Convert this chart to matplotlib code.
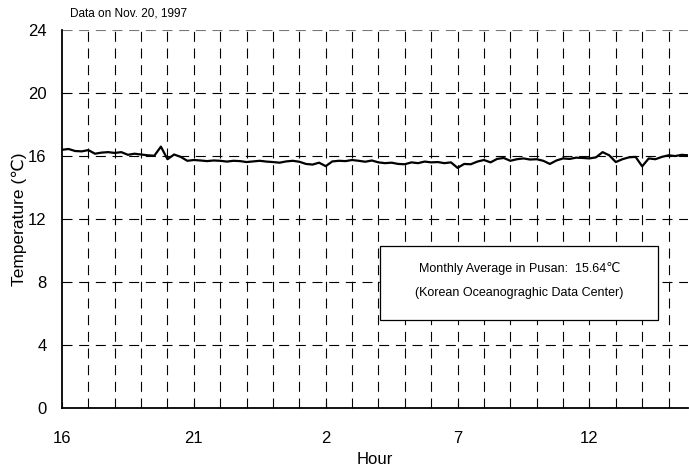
import numpy as np
import matplotlib
matplotlib.use('Agg')
import matplotlib.pyplot as plt
from matplotlib.patches import Rectangle

plt.rcParams['font.family'] = ['Liberation Sans', 'DejaVu Sans']

# temperature readings every 15 min, starting 16:00
temp = [16.40, 16.45, 16.32, 16.30,
        16.38, 16.15, 16.22, 16.25,
        16.20, 16.25, 16.08, 16.15,
        16.10, 16.05, 16.02, 16.60,
        15.80, 16.10, 15.95, 15.70,
        15.75, 15.72, 15.68, 15.72,
        15.70, 15.65, 15.70, 15.68,
        15.62, 15.66, 15.70, 15.65,
        15.62, 15.58, 15.66, 15.70,
        15.64, 15.50, 15.46, 15.58,
        15.36, 15.66, 15.70, 15.68,
        15.75, 15.70, 15.64, 15.72,
        15.60, 15.55, 15.58, 15.50,
        15.48, 15.60, 15.55, 15.65,
        15.60, 15.62, 15.55, 15.60,
        15.25, 15.50, 15.48, 15.65,
        15.75, 15.60, 15.82, 15.88,
        15.70, 15.80, 15.85, 15.78,
        15.80, 15.70, 15.50, 15.72,
        15.85, 15.82, 15.90, 15.88,
        15.85, 15.92, 16.25, 16.05,
        15.62, 15.80, 15.92, 15.95,
        15.35, 15.85, 15.80, 15.95,
        16.05, 16.00, 16.08, 16.05]
hours = np.arange(len(temp)) * 0.25

xtick_pos = [0, 5, 10, 15, 20]
xtick_lab = ['16', '21', '2', '7', '12']
ytick_pos = [0, 4, 8, 12, 16, 20, 24]

fig = plt.figure(figsize=(6.89, 4.72), dpi=100)
ax = fig.add_axes([0.09, 0.136, 0.909, 0.8])

dash = (0, (9, 6))
for h in range(1, 24):
    ax.axvline(h, color='black', lw=0.8, linestyle=dash, zorder=1)
for t in ytick_pos[1:]:
    ax.axhline(t, color='black' if t < 24 else '#777777', lw=0.8, linestyle=dash, zorder=1)

ax.plot(hours, temp, color='black', lw=1.6, zorder=3)

ax.set_xlim(0, 23.75)
ax.set_ylim(0, 24)
ax.set_xticks(xtick_pos)
ax.set_xticklabels(xtick_lab)
ax.set_xticks(range(0, 24), minor=True)
ax.set_yticks(ytick_pos)
ax.tick_params(axis='x', which='both', direction='in', length=4, pad=17, labelsize=12)
ax.tick_params(axis='y', direction='in', length=0, pad=11, labelsize=12)

for s in ['top', 'right']:
    ax.spines[s].set_visible(False)
ax.spines['left'].set_linewidth(1.3)
ax.spines['bottom'].set_linewidth(1.3)

ax.set_xlabel('Hour', fontsize=12, labelpad=4)
ax.set_ylabel('Temperature (\u2103)', fontsize=12.5, labelpad=1)

ax.add_patch(Rectangle((0.508, 0.233), 0.444, 0.196, transform=ax.transAxes,
                       facecolor='white', edgecolor='black', lw=0.9, zorder=4))
ax.text(0.73, 0.368, 'Monthly Average in Pusan:  15.64\u2103', transform=ax.transAxes,
        ha='center', va='center', fontsize=9, zorder=5)
ax.text(0.73, 0.304, '(Korean Oceanograghic Data Center)', transform=ax.transAxes,
        ha='center', va='center', fontsize=9, zorder=5)

fig.text(70 / 689, 1 - 14 / 472, 'Data on Nov. 20, 1997', ha='left', va='center', fontsize=8.5)

fig.savefig('out.png', dpi=100)
